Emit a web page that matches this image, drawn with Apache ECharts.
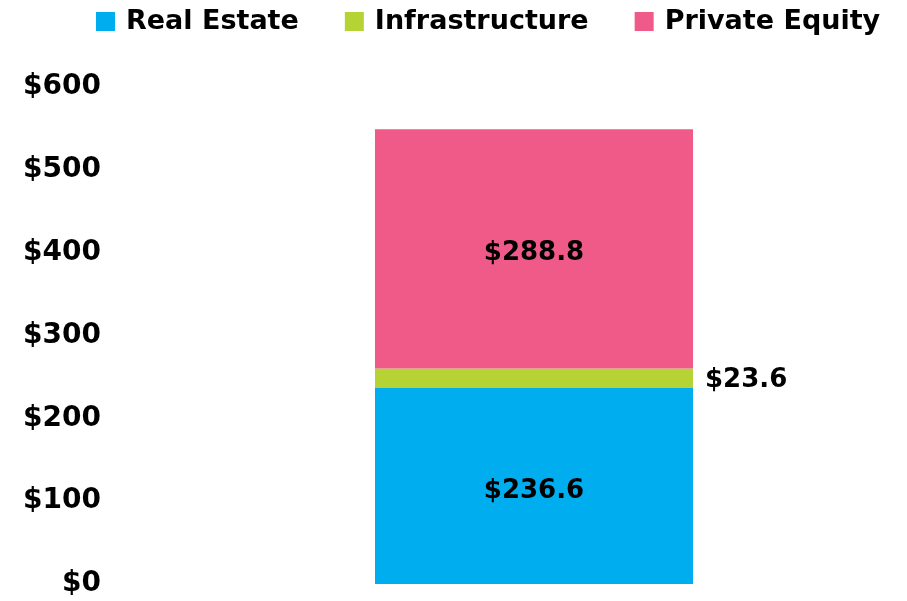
<!DOCTYPE html>
<html>
<head>
<meta charset="utf-8">
<script src="https://cdn.jsdelivr.net/npm/echarts@6/dist/echarts.min.js"></script>
<style>
  html, body { margin: 0; padding: 0; background: #fff; }
  #grafico { width: 907px; height: 601px; }
</style>
</head>
<body>
<div id="grafico"></div>
<script>
const categorias = ["Total"];
const bienesRaices = [236.6];
const infraestructura = [23.6];
const capitalPrivado = [288.8];
const ticksEje = [0, 100, 200, 300, 400, 500, 600];

const fuente = "DejaVu Sans";

function etiqueta(posicion, desplazamiento) {
    return {
        show: true,
        position: posicion,
        distance: 12,
        offset: [0, desplazamiento],
        color: "#000",
        fontFamily: fuente,
        fontWeight: "bold",
        fontSize: 26,
        formatter: function(p) { return "$" + p.value.toFixed(1); }
    };
}

const grafico = echarts.init(document.getElementById("grafico"));
grafico.setOption({
    animation: false,
    color: ["#00AEEF", "#B5D334", "#F05A89"],
    legend: {
        top: 3,
        left: 91,
        itemWidth: 19,
        itemHeight: 19,
        itemGap: 46,
        icon: "rect",
        textStyle: {
            color: "#000",
            fontFamily: fuente,
            fontWeight: "bold",
            fontSize: 27,
            padding: [0, 0, 0, 6]
        },
        data: ["Real Estate", "Infrastructure", "Private Equity"]
    },
    grid: {
        left: 300,
        right: 139,
        top: 87,
        bottom: 17,
        containLabel: false
    },
    xAxis: {
        type: "category",
        data: categorias,
        axisLine: {show: false},
        axisTick: {show: false},
        axisLabel: {show: false}
    },
    yAxis: {
        type: "value",
        min: ticksEje[0],
        max: ticksEje[ticksEje.length - 1],
        interval: 100,
        splitLine: {show: false},
        axisLine: {show: false},
        axisTick: {show: false},
        axisLabel: {
            margin: 199,
            color: "#000",
            fontFamily: fuente,
            fontWeight: "bold",
            fontSize: 28,
            padding: [6, 0, 0, 0],
            formatter: function(v) { return "$" + v; }
        }
    },
    series: [
        {
            name: "Real Estate",
            type: "bar",
            stack: "total",
            barWidth: 318,
            data: bienesRaices,
            label: etiqueta("inside", 5)
        },
        {
            name: "Infrastructure",
            type: "bar",
            stack: "total",
            barWidth: 318,
            data: infraestructura,
            label: etiqueta("right", 2)
        },
        {
            name: "Private Equity",
            type: "bar",
            stack: "total",
            barWidth: 318,
            data: capitalPrivado,
            label: etiqueta("inside", 4)
        }
    ]
});
</script>
</body>
</html>
